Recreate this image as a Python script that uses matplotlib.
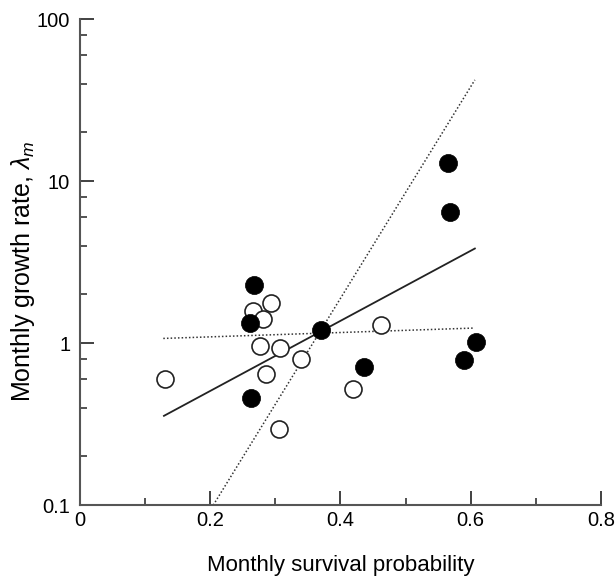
import numpy as np
import matplotlib
matplotlib.use("Agg")
from matplotlib import pyplot as plt
from matplotlib.ticker import FixedLocator, NullFormatter

plt.rcParams['font.family'] = ['Liberation Sans', 'DejaVu Sans']
plt.rcParams['mathtext.fontset'] = 'custom'
plt.rcParams['mathtext.rm'] = 'Liberation Sans'
plt.rcParams['mathtext.it'] = 'Liberation Sans:italic'

# filled circles
filled_x = [0.267, 0.261, 0.370, 0.437, 0.263, 0.566, 0.568, 0.608, 0.590]
filled_y = [2.28, 1.34, 1.20, 0.714, 0.457, 13.0, 6.50, 1.01, 0.789]

# open circles
open_x = [0.293, 0.266, 0.281, 0.276, 0.308, 0.339, 0.285, 0.462, 0.420, 0.306, 0.131]
open_y = [1.76, 1.57, 1.41, 0.962, 0.93, 0.797, 0.641, 1.29, 0.525, 0.295, 0.60]

# fitted lines (end points)
all_fit_x = [0.129, 0.6065]
all_fit_y = [0.356, 3.84]
flat_fit_x = [0.128, 0.6055]
flat_fit_y = [1.07, 1.24]
steep_fit_x = [0.2047, 0.6065]
steep_fit_y = [0.1, 42.2]

fig = plt.figure(figsize=(6.15, 5.82), dpi=100)
ax = fig.add_axes([0.130, 0.132, 0.847, 0.835])

dots = (0, (1, 1.4))
ax.plot(all_fit_x, all_fit_y, color='#222222', lw=1.3, zorder=2)
ax.plot(flat_fit_x, flat_fit_y, color='#333333', lw=1.1, linestyle=dots, zorder=2)
ax.plot(steep_fit_x, steep_fit_y, color='#333333', lw=1.1, linestyle=dots, zorder=2)

ax.scatter(open_x, open_y, s=150, facecolors='white', edgecolors='#222222',
           linewidths=1.2, zorder=3)
ax.scatter(filled_x, filled_y, s=170, color='black', edgecolors='black',
           linewidths=0.5, zorder=4)

ax.set_yscale('log')
ax.set_xlim(0, 0.8)
ax.set_ylim(0.1, 100)

ax.set_xticks([0, 0.2, 0.4, 0.6, 0.8])
ax.set_xticklabels(['0', '0.2', '0.4', '0.6', '0.8'])
ax.xaxis.set_minor_locator(FixedLocator([0.1, 0.3, 0.5, 0.7]))
ax.set_yticks([0.1, 1, 10, 100])
ax.set_yticklabels(['0.1', '1', '10', '100'])
minors = [m * d for d in [0.1, 1, 10] for m in [2, 4, 6, 8]]
ax.yaxis.set_minor_locator(FixedLocator(minors))
ax.yaxis.set_minor_formatter(NullFormatter())

for s in ['top', 'right']:
    ax.spines[s].set_visible(False)
for s in ['left', 'bottom']:
    ax.spines[s].set_color('#555555')
    ax.spines[s].set_linewidth(1.5)

ax.tick_params(which='major', direction='in', length=10, width=1.3,
               color='#333333', labelsize=14.5)
ax.tick_params(which='minor', direction='in', length=5, width=1.3, color='#444444')
ax.tick_params(axis='x', which='major', pad=4)
ax.tick_params(axis='y', which='major', pad=7)

ax.set_xlabel('Monthly survival probability', fontsize=16)
ax.xaxis.set_label_coords(0.5, -0.103)
ax.set_ylabel(r'Monthly growth rate, $\lambda_m$', fontsize=18)
ax.yaxis.set_label_coords(-0.083, 0.481)

plt.savefig('out.png', dpi=100)
